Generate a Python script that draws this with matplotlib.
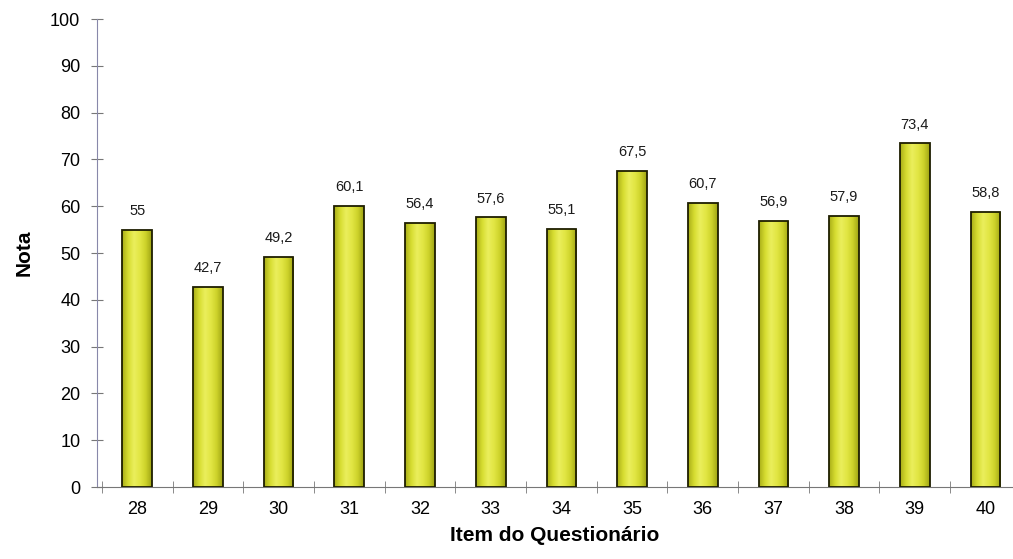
import numpy as np
import matplotlib
matplotlib.use('Agg')
from matplotlib import pyplot as plt
from matplotlib.colors import LinearSegmentedColormap

plt.rcParams['font.family'] = ['Liberation Sans', 'DejaVu Sans']

# Data
items = ['28', '29', '30', '31', '32', '33', '34', '35', '36', '37', '38', '39', '40']
notas = [55, 42.7, 49.2, 60.1, 56.4, 57.6, 55.1, 67.5, 60.7, 56.9, 57.9, 73.4, 58.8]
value_labels = ['55', '42,7', '49,2', '60,1', '56,4', '57,6', '55,1', '67,5',
                '60,7', '56,9', '57,9', '73,4', '58,8']

fig = plt.figure(figsize=(10.13, 5.59), dpi=100)
ax = fig.add_axes([97 / 1013, 1 - 487 / 559, 1 - 97 / 1013, 468 / 559])

x = np.arange(len(items))
width = 0.42

# cylinder-like shading across each bar
shade = LinearSegmentedColormap.from_list(
    'cyl', ['#a9ae18', '#d6dc30', '#eaee5c', '#e2e644', '#cdd22a', '#9fa414'])
grad = np.linspace(0, 1, 64).reshape(1, -1)

bars = ax.bar(x, notas, width=width, color='#dfe335', edgecolor='#1e1e00',
              linewidth=1.3, zorder=3)
for bar in bars:
    bx, by = bar.get_x(), bar.get_y()
    im = ax.imshow(grad, cmap=shade, aspect='auto', zorder=3,
                   extent=[bx, bx + bar.get_width(), by, by + bar.get_height()])
    im.set_clip_path(bar)
    bar.set_facecolor('none')
    bar.set_zorder(4)

for xi, v, lab in zip(x, notas, value_labels):
    ax.text(xi, v + 2.5, lab, ha='center', va='bottom', fontsize=10.5, color='#1a1a1a')

ax.set_xlim(-0.57, 12.39)
ax.set_ylim(0, 100)
ax.set_yticks(range(0, 101, 10))
ax.set_xticks(x)
ax.set_xticklabels(items, fontsize=13)
ax.set_xticks(np.arange(-0.5, 12.5, 1), minor=True)
ax.tick_params(axis='x', which='major', length=0, pad=10)
ax.tick_params(axis='x', which='minor', direction='inout', length=8, color='#777777')
ax.tick_params(axis='y', direction='inout', length=8, color='#777777', labelsize=13, pad=8)

for side in ['top', 'right']:
    ax.spines[side].set_visible(False)
ax.spines['left'].set_color('#8888aa')
ax.spines['bottom'].set_color('#777777')

ax.set_ylabel('Nota', fontsize=15, fontweight='bold', labelpad=12)
ax.set_xlabel('Item do Questionário', fontsize=15, fontweight='bold', labelpad=6)

fig.savefig('out.png', dpi=100)
